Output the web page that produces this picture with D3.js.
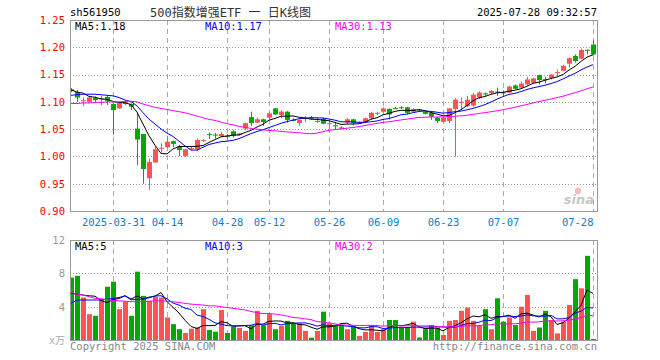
<!DOCTYPE html>
<html lang="zh">
<head>
<meta charset="utf-8">
<title>sh561950 日K线图</title>
<script src="https://cdn.jsdelivr.net/npm/d3@7/dist/d3.min.js"></script>
<style>
  body { margin: 0; background: #fff; }
  svg { display: block; }
  .mono { font-family: "DejaVu Sans Mono", "Liberation Mono", monospace; font-size: 10px; }
</style>
</head>
<body>
<div id="chart"></div>
<script>
// ---- data ----
var open  = [1.123,1.118,1.102,1.100,1.107,1.105,1.109,1.096,1.088,1.096,
             1.096,1.051,1.041,0.960,0.989,1.014,1.017,1.028,1.018,1.001,
             1.014,1.013,1.029,1.041,1.040,1.037,1.038,1.046,1.039,1.051,
             1.072,1.062,1.068,1.071,1.088,1.076,1.082,1.067,1.061,1.070,
             1.071,1.064,1.069,1.060,1.057,1.053,1.062,1.068,1.061,1.062,
             1.070,1.079,1.082,1.087,1.0885,1.090,1.090,1.082,1.086,1.082,
             1.080,1.071,1.0635,1.065,1.087,1.099,1.092,1.093,1.108,1.1155,
             1.116,1.119,1.1175,1.117,1.130,1.126,1.132,1.135,1.149,1.1415,
             1.144,1.1535,1.157,1.170,1.184,1.179,1.1955,1.205];
var high  = [1.125,1.122,1.108,1.110,1.110,1.111,1.112,1.097,1.100,1.102,
             1.097,1.080,1.041,0.996,1.018,1.024,1.038,1.029,1.021,1.014,
             1.018,1.033,1.032,1.044,1.043,1.045,1.041,1.048,1.043,1.062,
             1.082,1.071,1.069,1.082,1.089,1.085,1.083,1.070,1.068,1.074,
             1.074,1.072,1.071,1.065,1.062,1.055,1.070,1.069,1.064,1.071,
             1.082,1.082,1.090,1.088,1.091,1.092,1.091,1.088,1.087,1.083,
             1.083,1.072,1.073,1.088,1.107,1.108,1.111,1.116,1.120,1.117,
             1.122,1.126,1.121,1.130,1.132,1.137,1.146,1.144,1.150,1.146,
             1.151,1.159,1.168,1.181,1.187,1.198,1.196,1.213];
var low   = [1.118,1.100,1.092,1.099,1.100,1.094,1.094,1.040,1.087,1.094,
             1.085,0.984,0.950,0.939,0.988,1.007,1.015,1.017,1.001,0.999,
             1.011,1.010,1.027,1.032,1.033,1.035,1.033,1.035,1.038,1.048,
             1.056,1.061,1.056,1.068,1.076,1.070,1.062,1.064,1.056,1.063,
             1.068,1.061,1.059,1.050,1.050,1.050,1.059,1.057,1.060,1.061,
             1.067,1.076,1.080,1.068,1.087,1.087,1.077,1.081,1.083,1.077,
             1.067,1.061,1.061,1.061,1.000,1.087,1.090,1.0915,1.105,1.111,
             1.114,1.111,1.111,1.116,1.123,1.124,1.130,1.134,1.132,1.134,
             1.141,1.146,1.156,1.163,1.172,1.178,1.187,1.185];
var close = [1.120,1.108,1.103,1.108,1.103,1.106,1.102,1.085,1.098,1.100,
             1.091,1.031,0.977,0.990,1.013,1.016,1.027,1.023,1.012,1.013,
             1.015,1.030,1.030,1.040,1.039,1.041,1.037,1.038,1.042,1.061,
             1.061,1.068,1.063,1.079,1.077,1.082,1.067,1.066,1.067,1.0705,
             1.0705,1.065,1.060,1.061,1.055,1.052,1.068,1.061,1.063,1.070,
             1.080,1.080,1.088,1.077,1.088,1.089,1.080,1.087,1.085,1.078,
             1.073,1.065,1.071,1.088,1.104,1.100,1.104,1.113,1.117,1.115,
             1.120,1.118,1.117,1.128,1.124,1.1335,1.141,1.143,1.140,1.1405,
             1.150,1.1545,1.166,1.180,1.175,1.195,1.194,1.187];
// volume, unit 万
var volume = [7.5,7.7,5.1,3.1,2.9,4.9,6.4,7.0,3.7,4.6,
              2.9,8.2,5.3,4.7,5.2,5.1,2.7,1.9,1.3,0.84,
              1.36,1.5,3.7,1.2,1.0,3.6,0.84,1.6,1.44,1.1,
              1.76,3.5,1.76,3.1,1.3,1.7,2.3,2.0,2.0,1.1,
              0.28,1.1,3.4,2.0,1.7,1.7,1.3,1.6,0.5,0.96,
              1.8,0.96,1.3,2.4,2.4,1.5,1.5,2.2,0.3,1.3,
              1.8,1.5,0.6,2.3,2.4,3.5,3.9,2.3,1.8,3.7,
              1.3,5.0,2.2,2.7,1.8,4.0,5.4,1.1,1.5,3.5,
              2.4,0.8,2.2,4.2,7.3,6.2,10.1,0.12];

// moving-average values at the start of the window (earlier sessions are off the chart)
var ma5Head  = [1.122,1.118,1.116,1.110];
var ma10Head = [1.112,1.113,1.114,1.114,1.114,1.113,1.112,1.111,1.108];
var ma30Head = [1.097,1.097,1.098,1.098,1.099,1.099,1.100,1.100,1.100,1.101,
                1.101,1.100,1.096,1.093,1.090,1.088,1.086,1.084,1.082,1.080,
                1.077,1.074,1.071,1.068,1.066,1.063,1.060,1.058,1.055];
var vma5Head  = [5.6,5.5,5.4,5.3];
var vma10Head = [4.4,4.8,4.8,4.8,4.8,4.8,4.9,5.0,5.1];
var vma30Head = [5.7,5.5,5.4,5.2,5.0,4.95,4.85,4.75,4.7,4.65,
                 4.6,4.6,4.6,4.65,4.7,4.7,4.65,4.6,4.5,4.4,
                 4.3,4.25,4.2,4.1,4.1,4.0,3.9,3.8,3.7];

var tickIdx    = [7,16,26,33,43,52,62,72,87];
var tickLabels = ["2025-03-31","04-14","04-28","05-12","05-26","06-09","06-23","07-07","07-28"];
var priceTicks = [0.90,0.95,1.00,1.05,1.10,1.15,1.20,1.25];
var volTicks   = [4,8,12];
var maLabels   = ["MA5:1.18","MA10:1.17","MA30:1.13"];
var vmaLabels  = ["MA5:5","MA10:3","MA30:2"];

var RED = "#ff5353", GREEN = "#00a800";
var maColors = ["#000000", "#0000ff", "#ff00ff"];

function movingAvg(arr, n, head) {
  return arr.map(function(v, i) {
    if (i < n - 1) return head[i];
    return d3.mean(arr.slice(i - n + 1, i + 1));
  });
}

var W = 660, H = 360;
var left = 70, right = 597;
var pTop = 20, pBot = 211, vTop = 240, vBot = 340;

var svg = d3.select("#chart").append("svg").attr("width", W).attr("height", H);

var x = d3.scaleLinear().domain([0, close.length - 1]).range([71, 71 + 6 * (close.length - 1)]);
var y = d3.scaleLinear().domain([0.90, 1.25]).range([pBot, pTop]);
var yv = d3.scaleLinear().domain([0, 12]).range([vBot, vTop]);

svg.append("clipPath").attr("id", "clipP").append("rect")
  .attr("x", left).attr("y", pTop).attr("width", right - left).attr("height", pBot - pTop);
svg.append("clipPath").attr("id", "clipV").append("rect")
  .attr("x", left).attr("y", vTop).attr("width", right - left).attr("height", vBot - vTop);

// header
svg.append("text").attr("class", "mono").attr("x", 70).attr("y", 16).attr("fill", "#000")
  .style("font-size", "10.5px").text("sh561950");
svg.append("text").attr("x", 150).attr("y", 17).attr("fill", "#333")
  .style("font-family", "'DejaVu Sans Mono', 'Noto Sans CJK SC', monospace").style("font-size", "12px")
  .text("500指数增强ETF 一 日K线图");
svg.append("text").attr("class", "mono").attr("x", right).attr("y", 16).attr("text-anchor", "end")
  .attr("fill", "#000").style("font-size", "10.5px").text("2025-07-28 09:32:57");

// grid
var grid = svg.append("g");
grid.selectAll(".hp").data(priceTicks.filter(function(d) { return d > 0.9 && d < 1.25; }))
  .enter().append("line")
  .attr("x1", left).attr("x2", right)
  .attr("y1", function(d) { return Math.round(y(d)) + 0.5; })
  .attr("y2", function(d) { return Math.round(y(d)) + 0.5; })
  .attr("stroke", "#999").attr("stroke-dasharray", "1,2");
grid.selectAll(".hv").data(volTicks.filter(function(d) { return d < 12; }))
  .enter().append("line")
  .attr("x1", left).attr("x2", right)
  .attr("y1", function(d) { return Math.round(yv(d)) + 0.5; })
  .attr("y2", function(d) { return Math.round(yv(d)) + 0.5; })
  .attr("stroke", "#999").attr("stroke-dasharray", "1,2");
[[pTop, pBot], [vTop, vBot]].forEach(function(r) {
  grid.selectAll(null).data(tickIdx).enter().append("line")
    .attr("x1", function(d) { return Math.round(x(d)) + 0.5; })
    .attr("x2", function(d) { return Math.round(x(d)) + 0.5; })
    .attr("y1", r[0]).attr("y2", r[1])
    .attr("stroke", "#aaa").attr("stroke-dasharray", "5,4");
});

// sina watermark
var wm = svg.append("g").attr("opacity", 0.55);
wm.append("text").attr("x", 594).attr("y", 204).attr("text-anchor", "end")
  .style("font-family", "'DejaVu Sans', sans-serif").style("font-size", "13px")
  .style("font-weight", "bold").style("font-style", "italic").attr("fill", "#999").text("sina");
wm.append("circle").attr("cx", 578).attr("cy", 191).attr("r", 3.2).attr("fill", "#e88");

// price candles
var candles = svg.append("g").attr("clip-path", "url(#clipP)");
var idx = d3.range(close.length);
function col(i) { return close[i] >= open[i] ? RED : GREEN; }
candles.selectAll(".wick").data(idx).enter().append("line")
  .attr("x1", function(i) { return Math.round(x(i)) + 0.5; })
  .attr("x2", function(i) { return Math.round(x(i)) + 0.5; })
  .attr("y1", function(i) { return y(high[i]); })
  .attr("y2", function(i) { return y(low[i]); })
  .attr("stroke", col);
candles.selectAll(".body").data(idx).enter().append("rect")
  .attr("x", function(i) { return Math.round(x(i)) - 2; })
  .attr("width", 5)
  .attr("y", function(i) { return y(Math.max(open[i], close[i])); })
  .attr("height", function(i) { return Math.max(1, Math.abs(y(open[i]) - y(close[i]))); })
  .attr("fill", col);

// price MA lines
var ma = [movingAvg(close, 5, ma5Head), movingAvg(close, 10, ma10Head), movingAvg(close, 30, ma30Head)];
var line = d3.line().x(function(d, i) { return x(i); }).y(function(d) { return y(d); });
ma.forEach(function(s, k) {
  candles.append("path").datum(s).attr("d", line)
    .attr("fill", "none").attr("stroke", maColors[k]).attr("stroke-width", 1);
});

// volume bars
var vol = svg.append("g").attr("clip-path", "url(#clipV)");
vol.selectAll("rect").data(idx).enter().append("rect")
  .attr("x", function(i) { return Math.round(x(i)) - 2; })
  .attr("width", 5)
  .attr("y", function(i) { return yv(volume[i]); })
  .attr("height", function(i) { return vBot - yv(volume[i]); })
  .attr("fill", col);
var vma = [movingAvg(volume, 5, vma5Head), movingAvg(volume, 10, vma10Head), movingAvg(volume, 30, vma30Head)];
var vline = d3.line().x(function(d, i) { return x(i); }).y(function(d) { return yv(d); });
vma.forEach(function(s, k) {
  vol.append("path").datum(s).attr("d", vline)
    .attr("fill", "none").attr("stroke", maColors[k]).attr("stroke-width", 1);
});

// frames
[[pTop, pBot], [vTop, vBot]].forEach(function(r) {
  svg.append("rect").attr("x", left + 0.5).attr("y", r[0] + 0.5)
    .attr("width", right - left).attr("height", r[1] - r[0])
    .attr("fill", "none").attr("stroke", "#999");
});

// axes labels
var yAxis = d3.axisLeft(y).tickValues(priceTicks).tickSize(0).tickPadding(5)
  .tickFormat(d3.format(".2f"));
var ga = svg.append("g").attr("transform", "translate(" + left + ",0)").call(yAxis);
ga.select(".domain").remove();
ga.selectAll("text").attr("class", "mono").attr("fill", "#f00").style("font-size", "10.5px");

var vAxis = d3.axisLeft(yv).tickValues(volTicks).tickSize(0).tickPadding(5);
var gv = svg.append("g").attr("transform", "translate(" + left + ",0)").call(vAxis);
gv.select(".domain").remove();
gv.selectAll("text").attr("class", "mono").attr("fill", "#999").style("font-size", "10.5px");
svg.append("text").attr("x", 65).attr("y", 344).attr("text-anchor", "end").attr("fill", "#aaa")
  .style("font-family", "'DejaVu Sans Mono', 'Noto Sans CJK SC', monospace").style("font-size", "10px")
  .text("x万");

var xAxis = d3.axisBottom(x).tickValues(tickIdx).tickSize(0).tickPadding(8)
  .tickFormat(function(d, i) { return tickLabels[i]; });
var gx = svg.append("g").attr("transform", "translate(0," + pBot + ")").call(xAxis);
gx.select(".domain").remove();
gx.selectAll("text").attr("class", "mono").attr("fill", "#0a80d0").style("font-size", "10.5px")
  .attr("text-anchor", function(d, i) { return i === tickIdx.length - 1 ? "end" : "middle"; });

// MA legends
var legX = [75, 205, 335];
maLabels.forEach(function(t, k) {
  svg.append("text").attr("class", "mono").attr("x", legX[k]).attr("y", 30)
    .attr("fill", maColors[k]).style("font-size", "10.5px").text(t);
});
vmaLabels.forEach(function(t, k) {
  svg.append("text").attr("class", "mono").attr("x", legX[k]).attr("y", 250)
    .attr("fill", maColors[k]).style("font-size", "10.5px").text(t);
});

// footer
svg.append("text").attr("class", "mono").attr("x", 70).attr("y", 350).attr("fill", "#888")
  .style("font-size", "10.5px").text("Copyright 2025 SINA.COM");
svg.append("text").attr("class", "mono").attr("x", right).attr("y", 350).attr("text-anchor", "end")
  .attr("fill", "#888").style("font-size", "10.5px").text("http://finance.sina.com.cn");
</script>
</body>
</html>
